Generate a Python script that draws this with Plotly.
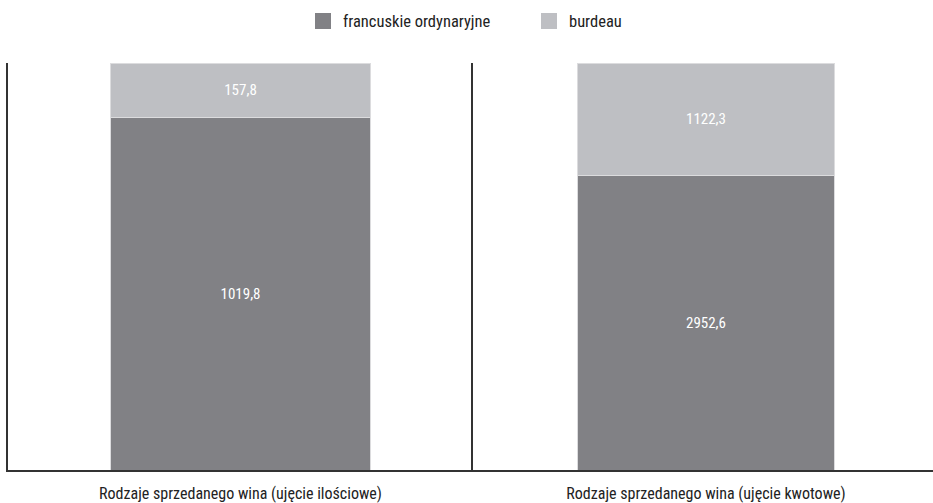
import plotly.graph_objects as go
from plotly.subplots import make_subplots

panels = ["Rodzaje sprzedanego wina (ujęcie ilościowe)", "Rodzaje sprzedanego wina (ujęcie kwotowe)"]
series_names = ["francuskie ordynaryjne", "burdeau"]
francuskie = [1019.8, 2952.6]
burdeau = [157.8, 1122.3]

colors = ["#818185", "#bebfc3"]
FONT = "Roboto Condensed, Liberation Sans Narrow, Roboto, sans-serif"

def fmt(v):
    return f"{v:.1f}".replace(".", ",")

fig = make_subplots(rows=1, cols=2, horizontal_spacing=0)

for i in range(2):
    total = francuskie[i] + burdeau[i]
    for j, vals in enumerate([francuskie, burdeau]):
        fig.add_trace(go.Bar(
            x=[panels[i]], y=[vals[i] / total * 100],
            text=[fmt(vals[i])], textposition="inside", insidetextanchor="middle",
            textfont=dict(color="white", size=15, family=FONT),
            marker=dict(color=colors[j], line=dict(color="#dcdcde", width=1)),
            width=0.56, showlegend=False, hoverinfo="skip", name=series_names[j]
        ), row=1, col=i + 1)

for j, nm in enumerate(series_names):
    fig.add_trace(go.Scatter(
        x=[None], y=[None], mode="markers", name=nm,
        marker=dict(symbol="square", size=16, color=colors[j]),
    ), row=1, col=1)

W, H = 933, 503
L, R, T, B = 8, 0, 63, 30
PW = W - L - R
PH = H - T - B
split = 465 / PW
fig.update_layout(
    barmode="stack",
    width=W, height=H,
    margin=dict(l=L, r=R, t=T, b=B),
    paper_bgcolor="white", plot_bgcolor="white",
    font=dict(family=FONT, size=15, color="#222"),
    legend=dict(orientation="h", x=(303 - L) / PW, xanchor="left", y=1 + (T - 21) / PH, yanchor="middle",
                font=dict(size=16.5, family=FONT, color="#222"), itemwidth=30,
                entrywidth=181, traceorder="normal"),
    xaxis=dict(domain=[0, split]),
    xaxis2=dict(domain=[split, 1], range=[-0.5065, 0.4935]),
)
fig.update_xaxes(showline=True, linecolor="#333", linewidth=1.5, showgrid=False,
                 ticks="", ticklabelstandoff=8, tickfont=dict(size=16, family=FONT, color="#222"))
fig.update_yaxes(range=[0, 100], showline=True, linecolor="#333", linewidth=1.5,
                 showgrid=False, zeroline=False, showticklabels=False, ticks="")

fig.write_html("out.html", config={"displayModeBar": False},
               post_script="document.body.style.margin='0';")
